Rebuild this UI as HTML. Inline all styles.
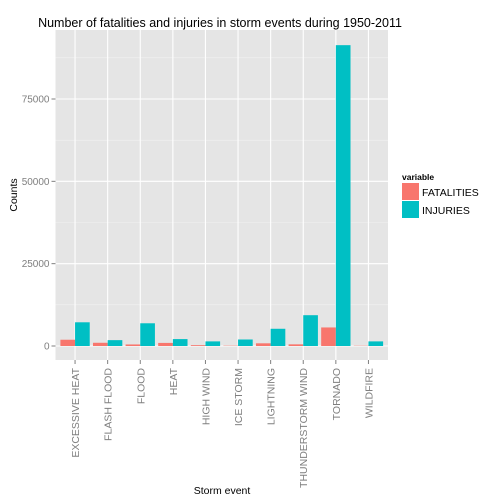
<!DOCTYPE html>
<html><head><meta charset="utf-8"><style>
body{margin:0;background:#fff;}
svg{display:block;font-family:"Liberation Sans",sans-serif;}
</style></head><body>
<svg id="c" width="504" height="504"></svg>
<script>
const categories=["EXCESSIVE HEAT","FLASH FLOOD","FLOOD","HEAT","HIGH WIND","ICE STORM","LIGHTNING","THUNDERSTORM WIND","TORNADO","WILDFIRE"];
const fatalities=[1903,978,470,937,248,89,816,504,5633,75];
const injuries=[7200,1777,6900,2100,1400,1975,5230,9353,91346,1400];
const yTicks=[0,25000,50000,75000];
const NS="http://www.w3.org/2000/svg";
const svg=document.getElementById('c');
const L=55.5,R=388,T=30,B=360;
const step=(R-L)/(categories.length+0.2);
const xc=i=>L+(i+0.6)*step;
const y=v=>346-v*(346-99)/75000;
function el(t,a,p){const e=document.createElementNS(NS,t);for(const k in a)e.setAttribute(k,a[k]);(p||svg).appendChild(e);return e;}
const panel=el('rect',{x:L,y:T,width:R-L,height:B-T,fill:'#e5e5e5'});


for(let v=12500;v<96000;v+=25000){const g=el('line',{x1:L,x2:R,y1:y(v),y2:y(v),stroke:'#f2f2f2','stroke-width':0.6});}
yTicks.forEach(v=>{
const g=el('line',{x1:L,x2:R,y1:y(v),y2:y(v),stroke:'#fff','stroke-width':1.1});


const tk=el('line',{x1:L-4,x2:L,y1:y(v),y2:y(v),stroke:'#7f7f7f'});


const t=el('text',{x:L-6,y:y(v)+3.5,'text-anchor':'end','font-size':'10px',fill:'#7f7f7f'});t.textContent=v;


});
categories.forEach((c,i)=>{
const x=xc(i);
const g=el('line',{x1:x,x2:x,y1:T,y2:B,stroke:'#fff','stroke-width':1.1});


});
const bw=step*0.45;
categories.forEach((c,i)=>{
const x=xc(i);
const f=el('rect',{x:x-bw,y:y(fatalities[i]),width:bw,height:y(0)-y(fatalities[i]),fill:'#f8766d'});


const j=el('rect',{x:x,y:y(injuries[i]),width:bw,height:y(0)-y(injuries[i]),fill:'#00bfc4'});


const tk=el('line',{x1:x,x2:x,y1:B,y2:B+4,stroke:'#7f7f7f'});


const t=el('text',{transform:`translate(${x+4},${B+8}) rotate(-90)`,'text-anchor':'end','font-size':'10.5px',fill:'#7f7f7f'});t.textContent=c;


});
</script>
<script>
(function(){
const svg=document.getElementById('c');const NS="http://www.w3.org/2000/svg";
function tx(a,s,n){const e=document.createElementNS(NS,'text');for(const k in a)e.setAttribute(k,a[k]);e.textContent=s;svg.appendChild(e);

return e;}
tx({x:220,y:27,'text-anchor':'middle','font-size':'12.5px',fill:'#000'},'Number of fatalities and injuries in storm events during 1950-2011','chart-title');
tx({x:222,y:494,'text-anchor':'middle','font-size':'10.5px',fill:'#000'},'Storm event','x-axis-title');
tx({transform:'translate(17,195) rotate(-90)','text-anchor':'middle','font-size':'10.5px',fill:'#000'},'Counts','y-axis-title');
tx({x:402,y:180,'font-size':'8.5px','font-weight':'bold',fill:'#000'},'variable','legend-title');
const k1=document.createElementNS(NS,'rect');[['x',402],['y',183],['width',17],['height',17],['fill','#f8766d']].forEach(a=>k1.setAttribute(a[0],a[1]));svg.appendChild(k1);


const k2=document.createElementNS(NS,'rect');[['x',402],['y',201],['width',17],['height',17],['fill','#00bfc4']].forEach(a=>k2.setAttribute(a[0],a[1]));svg.appendChild(k2);


tx({x:422,y:196,'font-size':'10.5px',fill:'#000'},'FATALITIES','legend-label-fatalities');
tx({x:422,y:214,'font-size':'10.5px',fill:'#000'},'INJURIES','legend-label-injuries');
})();
</script>
</body></html>
